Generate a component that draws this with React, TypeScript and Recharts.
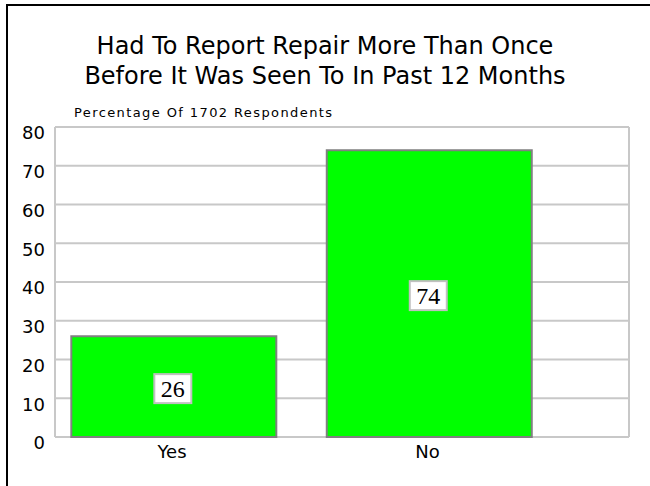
import React from 'react';
import { BarChart, Bar, XAxis, YAxis, CartesianGrid, LabelList } from 'recharts';

const titleLines = ['Had To Report Repair More Than Once', 'Before It Was Seen To In Past 12 Months'];
const subtitle = 'Percentage Of 1702 Respondents';
const categories = ['Yes', 'No'];
const percentages = [26, 74];
const yTicks = [0, 10, 20, 30, 40, 50, 60, 70, 80];
const xPositions = [0, 1];

const data = categories.map((name, i) => ({ x: xPositions[i], name, value: percentages[i] }));

const SANS = '"DejaVu Sans", sans-serif';
const SERIF = '"Liberation Serif", "Times New Roman", serif';

const YTick = (props: any) => {
  const { x, y, payload } = props;
  return (
    <text x={x - 4} y={y + 6} dy="0.355em" textAnchor="end" fontFamily={SANS} fontSize={18} fill="#000">
      {payload.value}
    </text>
  );
};

const XTick = (props: any) => {
  const { x, y, payload } = props;
  return (
    <text x={x - 2} y={y} dy="0.71em" textAnchor="middle" fontFamily={SANS} fontSize={18} fill="#000">
      {categories[payload.value]}
    </text>
  );
};

const ValueLabel = (props: any) => {
  const { x, y, width, height, value } = props;
  const cx = x + width / 2;
  const cy = y + height / 2 + 2;
  const w = 37;
  const h = 29;
  return (
    <g>
      <rect x={cx - w / 2 - 1} y={cy - h / 2} width={w} height={h} fill="#fff" stroke="#c0c0c0" strokeWidth={2} />
      <text x={cx - 1} y={cy} dy="0.35em" textAnchor="middle" fontFamily={SERIF} fontSize={24} fill="#000">
        {value}
      </text>
    </g>
  );
};

export default function App() {
  return (
    <div style={{ position: 'absolute', left: 0, top: 0, width: 650, height: 486, overflow: 'hidden', background: '#fff' }}>
      <div style={{ position: 'absolute', left: 6, top: 4, width: 700, height: 600, border: '2px solid #000', boxSizing: 'border-box' }} />
      <div style={{ position: 'absolute', left: 0, top: 31, width: 650, textAlign: 'center', fontFamily: SANS, fontSize: 24, lineHeight: '30px', color: '#000' }}>
        {titleLines.map((l) => (
          <div key={l}>{l}</div>
        ))}
      </div>
      <div style={{ position: 'absolute', left: 74, top: 105, fontFamily: SANS, fontSize: 13, letterSpacing: 1.4, color: '#000', whiteSpace: 'nowrap' }}>
        {subtitle}
      </div>
      <div style={{ position: 'absolute', left: 0, top: 0 }}>
        <BarChart width={650} height={486} data={data} margin={{ top: 127, right: 21, bottom: 0, left: 0 }}>
          <CartesianGrid
            stroke="#c8c8c8"
            strokeWidth={2}
            fill="none"
            verticalCoordinatesGenerator={({ offset }: any) => [offset.left, offset.left + offset.width]}
          />
          <XAxis
            type="number"
            dataKey="x"
            domain={[-0.466, 1.781]}
            ticks={xPositions}
            allowDataOverflow
            axisLine={false}
            tickLine={false}
            height={49}
            tick={<XTick />}
          />
          <YAxis
            type="number"
            domain={[0, 80]}
            ticks={yTicks}
            width={55}
            axisLine={false}
            tickLine={false}
            tickMargin={0}
            tick={<YTick />}
          />
          <Bar dataKey="value" fill="#00ff00" stroke="#808080" strokeWidth={2} barSize={205} isAnimationActive={false}>
            <LabelList dataKey="value" content={<ValueLabel />} />
          </Bar>
        </BarChart>
      </div>
    </div>
  );
}
